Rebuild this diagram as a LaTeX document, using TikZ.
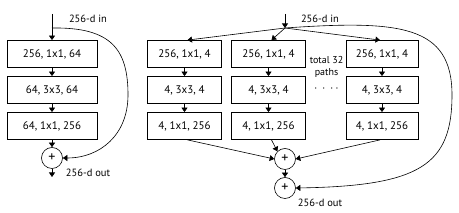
\documentclass[tikz,border=0pt]{standalone}
\usepackage{fontspec}
\setmainfont{PT Sans}
\usetikzlibrary{arrows.meta}
\begin{document}
\begin{tikzpicture}[x=1pt,y=-1pt,
  box/.style={draw,line width=0.8pt,minimum height=27pt,inner sep=0pt,font=\fontsize{11}{12}\selectfont},
  sumnode/.style={draw,circle,line width=0.6pt,minimum size=21pt,inner sep=0pt,font=\fontsize{14}{14}\selectfont},
  lbl/.style={font=\fontsize{10.5}{12}\selectfont,inner sep=0pt},
  conn/.style={line width=0.6pt,-{Triangle[length=4.5pt,width=6pt]}},
  curv/.style={line width=0.6pt,-{Triangle[length=4.5pt,width=6pt]}}
]
\useasboundingbox (0,0) rectangle (459,213);
% ---------- left block ----------
\node[box,minimum width=90pt] (l1) at (52,54) {256, 1x1, 64};
\node[box,minimum width=90pt] (l2) at (52,90) {64, 3x3, 64};
\node[box,minimum width=90pt] (l3) at (52,126) {64, 1x1, 256};
\node[sumnode] (ls) at (52,158) {+};
\coordinate (lin) at (52,14);
\coordinate (lfork) at (52,28);
\coordinate (lout) at (52,177);
\node[lbl] (lintxt) at (88,19) {256-d in};
\node[lbl] (louttxt) at (88,173) {256-d out};
\draw[conn] (lin) -- (l1.north);
\draw[conn] (l1) -- (l2);
\draw[conn] (l2) -- (l3);
\draw[conn] (l3) -- (ls);
\draw[conn] (ls) -- (lout);
\draw[curv] (lfork) .. controls (112,27) and (128,50) .. (128,95)
  .. controls (128,135) and (100,158) .. (ls.east);
% ---------- right block ----------
\node[box,minimum width=74pt] (a1) at (184.5,54) {256, 1x1, 4};
\node[box,minimum width=74pt] (a2) at (184.5,90) {4, 3x3, 4};
\node[box,minimum width=74pt] (a3) at (184.5,126) {4, 1x1, 256};
\node[box,minimum width=74pt] (b1) at (268.5,54) {256, 1x1, 4};
\node[box,minimum width=74pt] (b2) at (268.5,90) {4, 3x3, 4};
\node[box,minimum width=74pt] (b3) at (268.5,126) {4, 1x1, 256};
\node[box,minimum width=72pt] (c1) at (382,54) {256, 1x1, 4};
\node[box,minimum width=72pt] (c2) at (382,90) {4, 3x3, 4};
\node[box,minimum width=72pt] (c3) at (382,126) {4, 1x1, 256};
\node[font=\fontsize{10}{12}\selectfont,align=center,inner sep=0pt] (tot) at (326.5,67) {total 32\\paths};
\node[font=\fontsize{13}{12}\selectfont,inner sep=0pt] (dots) at (326.5,89) {$\cdot\,\cdot\,\cdot\,\cdot$};
\node[sumnode] (s1) at (285,159) {+};
\node[sumnode] (s2) at (285,188) {+};
\coordinate (rin) at (285,14);
\coordinate (rfork) at (285,28);
\node[lbl] (rintxt) at (320,19) {256-d in};
\node[lbl] (routtxt) at (320,203) {256-d out};
\draw[conn] (rin) -- (rfork);
\draw[conn] (rfork) -- ([xshift=3pt]a1.north);
\draw[conn] (rfork) -- ([xshift=3pt]b1.north);
\draw[conn] (rfork) -- ([xshift=-2pt]c1.north);
\draw[conn] (a1) -- (a2);
\draw[conn] (a2) -- (a3);
\draw[conn] (b1) -- (b2);
\draw[conn] (b2) -- (b3);
\draw[conn] (c1) -- (c2);
\draw[conn] (c2) -- (c3);
\draw[conn] ([xshift=3pt]a3.south) -- (s1.west);
\draw[conn] ([xshift=3pt]b3.south) -- (s1.north west);
\draw[conn] ([xshift=-2pt]c3.south) -- (s1.east);
\draw[conn] (s1) -- (s2);
\draw[curv] (rfork) .. controls (400,20) and (452,25) .. (452,95)
  .. controls (452,165) and (420,186) .. (s2.east);
\end{tikzpicture}
\end{document}
